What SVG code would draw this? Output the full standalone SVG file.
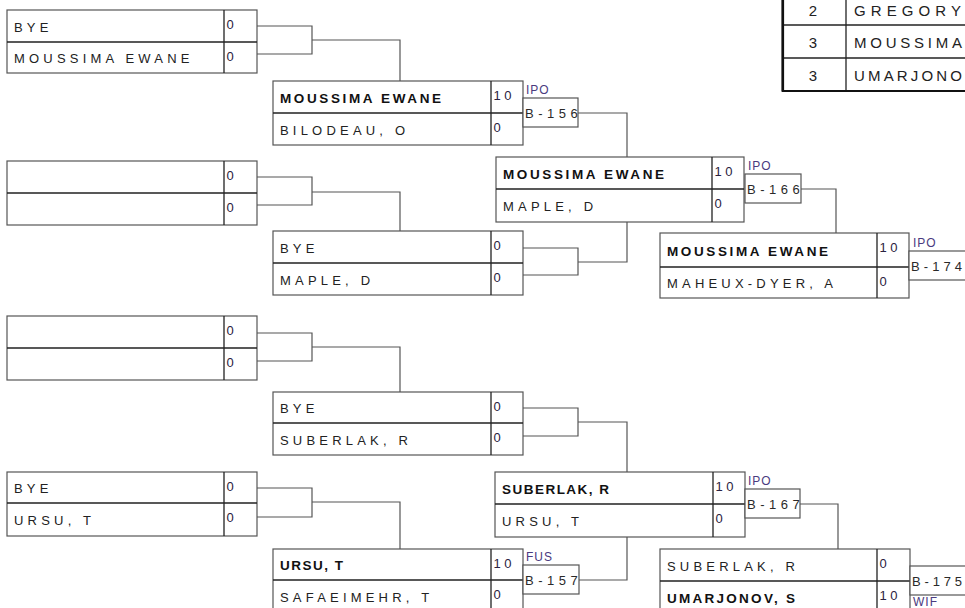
<svg xmlns="http://www.w3.org/2000/svg" width="965" height="608" viewBox="0 0 965 608">
<style>
.bx{fill:#fff;stroke:#555;stroke-width:1.2}
.dv{stroke:#222;stroke-width:1.3;fill:none}
.cn{fill:none;stroke:#555;stroke-width:1.2}
.nm{font-family:"Liberation Sans",Arial,sans-serif;font-size:13px;letter-spacing:4.2px;fill:#222}
.nb{font-family:"Liberation Sans",Arial,sans-serif;font-size:13.5px;font-weight:bold;fill:#111}
.sc{font-family:"Liberation Sans",Arial,sans-serif;font-size:13px;letter-spacing:3.5px;fill:#2a2240}
.bl{font-family:"Liberation Sans",Arial,sans-serif;font-size:13px;letter-spacing:4.5px;fill:#2a2a2a}
.be{font-family:"Liberation Sans",Arial,sans-serif;font-size:13px;fill:#2a2a2a}
.lb{font-family:"Liberation Sans",Arial,sans-serif;font-size:12px;letter-spacing:1px;fill:#4a3a80}
.tt{font-family:"Liberation Sans",Arial,sans-serif;font-size:15px;fill:#222}
.tn{font-family:"Liberation Sans",Arial,sans-serif;font-size:15px;fill:#222;text-anchor:middle}
.tbl{fill:#fff;stroke:#222;stroke-width:1.2}
.tbk{fill:none;stroke:#111;stroke-width:2.2}
</style>

<g id="connectors">
<path class="cn" d="M257,26 H312 V54 H257 M312,40 H400 V81"/>
<path class="cn" d="M257,177 H312 V205 H257 M312,192 H400 V231"/>
<path class="cn" d="M257,333 H312 V361 H257 M312,347 H400 V392"/>
<path class="cn" d="M257,488 H312 V517 H257 M312,502 H400 V549"/>
<path class="cn" d="M578,113 H627 V157"/>
<path class="cn" d="M523,248 H578 V275 H523 M578,262 H627 V222"/>
<path class="cn" d="M523,408 H578 V436 H523 M578,422 H627 V472"/>
<path class="cn" d="M579,580 H627 V537"/>
<path class="cn" d="M801,189 H836 V233"/>
<path class="cn" d="M800,504 H838 V549"/>
</g>

<g id="standings">
<rect class="tbl" x="782" y="-10" width="200" height="101"/>
<line class="dv" x1="782" y1="25" x2="965" y2="25"/>
<line class="dv" x1="782" y1="58" x2="965" y2="58"/>
<line class="dv" x1="846" y1="-10" x2="846" y2="91"/>
<path class="tbk" d="M783,-5 V91 H970"/>
<text class="tn" x="813" y="16">2</text>
<text class="tt" x="854" y="16" textLength="107" lengthAdjust="spacing">GREGORY</text>
<text class="tn" x="813" y="48">3</text>
<text class="tt" x="854" y="48" textLength="108" lengthAdjust="spacing">MOUSSIMA</text>
<text class="tn" x="813" y="81">3</text>
<text class="tt" x="854" y="81" textLength="108" lengthAdjust="spacing">UMARJONO</text>
</g>

<g id="m1">
<rect class="bx" x="7" y="10" width="250" height="63"/>
<path class="dv" d="M7,42 H257 M224,10 V73"/>
<text class="nm" x="14" y="31.5">BYE</text>
<text class="nm" x="14" y="63">MOUSSIMA EWANE</text>
<text class="sc" x="226.5" y="29">0</text>
<text class="sc" x="226.5" y="61">0</text>
</g>

<g id="m2">
<rect class="bx" x="7" y="161" width="250" height="64"/>
<path class="dv" d="M7,193 H257 M224,161 V225"/>
<text class="sc" x="226.5" y="180">0</text>
<text class="sc" x="226.5" y="212">0</text>
</g>

<g id="m3">
<rect class="bx" x="7" y="316" width="250" height="64"/>
<path class="dv" d="M7,348 H257 M224,316 V380"/>
<text class="sc" x="226.5" y="335">0</text>
<text class="sc" x="226.5" y="367">0</text>
</g>

<g id="m4">
<rect class="bx" x="7" y="472" width="250" height="64"/>
<path class="dv" d="M7,503 H257 M224,472 V536"/>
<text class="nm" x="14" y="493">BYE</text>
<text class="nm" x="14" y="525">URSU, T</text>
<text class="sc" x="226.5" y="491">0</text>
<text class="sc" x="226.5" y="522">0</text>
</g>

<g id="r2a">
<rect class="bx" x="273" y="81" width="250" height="64"/>
<path class="dv" d="M273,113 H523 M491,81 V145"/>
<text class="nb" x="280" y="102.5" textLength="161" lengthAdjust="spacing">MOUSSIMA EWANE</text>
<text class="nm" x="280" y="134.5">BILODEAU, O</text>
<text class="sc" x="493.5" y="100">10</text>
<text class="sc" x="493.5" y="132">0</text>
</g>
<g id="b156">
<rect class="bx" x="523" y="98" width="55" height="29"/>
<text class="lb" x="526" y="94">IPO</text>
<text class="bl" x="525" y="117.5">B-156</text>
</g>

<g id="r2b">
<rect class="bx" x="273" y="231" width="250" height="64"/>
<path class="dv" d="M273,263 H523 M491,231 V295"/>
<text class="nm" x="280" y="252.5">BYE</text>
<text class="nm" x="280" y="284.5">MAPLE, D</text>
<text class="sc" x="493.5" y="250">0</text>
<text class="sc" x="493.5" y="282">0</text>
</g>

<g id="r2c">
<rect class="bx" x="273" y="392" width="250" height="63"/>
<path class="dv" d="M273,423 H523 M491,392 V455"/>
<text class="nm" x="280" y="413">BYE</text>
<text class="nm" x="280" y="444.5">SUBERLAK, R</text>
<text class="sc" x="493.5" y="411">0</text>
<text class="sc" x="493.5" y="442">0</text>
</g>

<g id="r2d">
<rect class="bx" x="273" y="549" width="250" height="64"/>
<path class="dv" d="M273,580 H523 M491,549 V613"/>
<text class="nb" x="280" y="570" textLength="63" lengthAdjust="spacing">URSU, T</text>
<text class="nm" x="280" y="601.5">SAFAEIMEHR, T</text>
<text class="sc" x="493.5" y="568">10</text>
<text class="sc" x="493.5" y="599">0</text>
</g>
<g id="b157">
<rect class="bx" x="523" y="565" width="56" height="29"/>
<text class="lb" x="526" y="561">FUS</text>
<text class="bl" x="525" y="584.5">B-157</text>
</g>

<g id="r3a">
<rect class="bx" x="496" y="157" width="248" height="65"/>
<path class="dv" d="M496,189 H744 M712,157 V222"/>
<text class="nb" x="503" y="178.5" textLength="161" lengthAdjust="spacing">MOUSSIMA EWANE</text>
<text class="nm" x="503" y="211">MAPLE, D</text>
<text class="sc" x="714.5" y="176">10</text>
<text class="sc" x="714.5" y="208">0</text>
</g>
<g id="b166">
<rect class="bx" x="745" y="174" width="56" height="29"/>
<text class="lb" x="748" y="170">IPO</text>
<text class="bl" x="747" y="193.5">B-166</text>
</g>

<g id="r3b">
<rect class="bx" x="495" y="472" width="250" height="65"/>
<path class="dv" d="M495,504 H745 M713,472 V537"/>
<text class="nb" x="502" y="493.5" textLength="107" lengthAdjust="spacing">SUBERLAK, R</text>
<text class="nm" x="502" y="526">URSU, T</text>
<text class="sc" x="715.5" y="491">10</text>
<text class="sc" x="715.5" y="523">0</text>
</g>
<g id="b167">
<rect class="bx" x="745" y="489" width="55" height="29"/>
<text class="lb" x="748" y="485">IPO</text>
<text class="bl" x="747" y="508.5">B-167</text>
</g>

<g id="r4a">
<rect class="bx" x="660" y="233" width="249" height="65"/>
<path class="dv" d="M660,267 H909 M877,233 V298"/>
<text class="nb" x="667" y="255.5" textLength="161" lengthAdjust="spacing">MOUSSIMA EWANE</text>
<text class="nm" x="667" y="288">MAHEUX-DYER, A</text>
<text class="sc" x="879.5" y="252">10</text>
<text class="sc" x="879.5" y="286">0</text>
</g>
<g id="b174">
<rect class="bx" x="909" y="251" width="70" height="29"/>
<text class="lb" x="913" y="247">IPO</text>
<text class="be" x="911" y="270.5" textLength="51" lengthAdjust="spacing">B-174</text>
</g>

<g id="r4b">
<rect class="bx" x="660" y="549" width="250" height="64"/>
<path class="dv" d="M660,581 H910 M877,549 V613"/>
<text class="nm" x="667" y="570.5">SUBERLAK, R</text>
<text class="nb" x="667" y="602.5" textLength="128" lengthAdjust="spacing">UMARJONOV, S</text>
<text class="sc" x="879.5" y="568">0</text>
<text class="sc" x="879.5" y="600">10</text>
</g>
<g id="b175">
<rect class="bx" x="910" y="566" width="70" height="29"/>
<text class="be" x="912" y="585.5" textLength="50" lengthAdjust="spacing">B-175</text>
<text class="lb" x="913" y="606">WIF</text>
</g>
</svg>
